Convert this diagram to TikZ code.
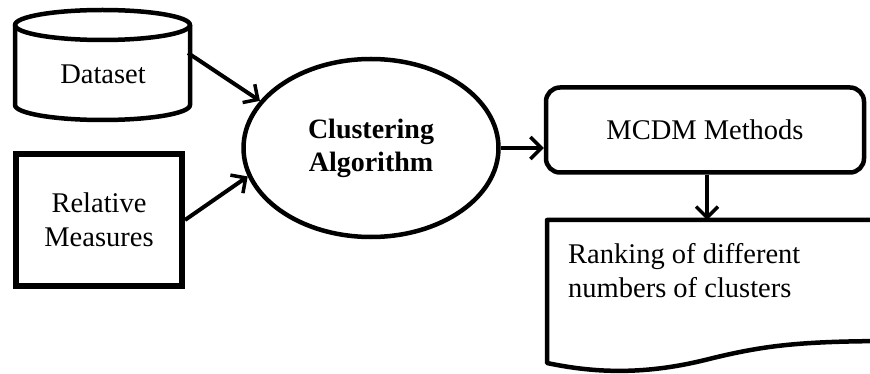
\documentclass[tikz,border=0pt]{standalone}
\usepackage{fontspec}
\setmainfont{Liberation Serif}
\usetikzlibrary{arrows.meta,shapes.geometric,calc}
\tikzset{
  lbl/.style={font=\fontsize{28.5}{34}\selectfont, align=center, inner sep=0pt},
  conn/.style={line width=4pt, -{Straight Barb[length=11pt,width=22pt,line width=3.5pt]}},
  outline/.style={line width=4.5pt, line join=round},
}
\begin{document}
\begin{tikzpicture}[x=1pt,y=-1pt]
\useasboundingbox[fill=white] (0,0) rectangle (870,374);
% Dataset cylinder
\draw[outline] (15,25) -- (15,105) arc[start angle=180,end angle=360,x radius=87.5,y radius=-15] -- (190,25);
\draw[outline] (102.5,25) ellipse[x radius=87.5,y radius=15];
\node[lbl] (dataset) at (103,74) {Dataset};
\coordinate (dsout) at (188,53);
% Relative measures
\node[lbl, draw, line width=6pt, minimum width=166pt, minimum height=132pt] (rel) at (99,220) {Relative\\Measures};
% Clustering
\node[lbl, draw, ellipse, line width=4.5pt, minimum width=255pt, minimum height=178pt, font=\fontsize{28}{33}\selectfont\bfseries] (clust) at (371,148) {Clustering\\Algorithm};
% MCDM
\node[lbl, draw, line width=4.5pt, rounded corners=14pt, minimum width=318pt, minimum height=85pt] (mcdm) at (705,130) {MCDM Methods};
% Document
\draw[outline] (900,220) -- (547,220) -- (547,363)
  .. controls (590,372) and (640,376) .. (705,360)
  .. controls (765,345) and (800,341) .. (900,341);
\node[lbl, align=left, anchor=north west] (doc) at (568,243) {Ranking of different\\numbers of clusters};
\coordinate (doctop) at (707,220);
% connectors
\draw[conn] (dsout) -- (clust.157);
\draw[conn] (rel.east) -- (clust.193);
\draw[conn] (clust.east) -- (clust.east -| mcdm.west);
\draw[conn] (mcdm.south -| doctop) -- (doctop);
\end{tikzpicture}
\end{document}
